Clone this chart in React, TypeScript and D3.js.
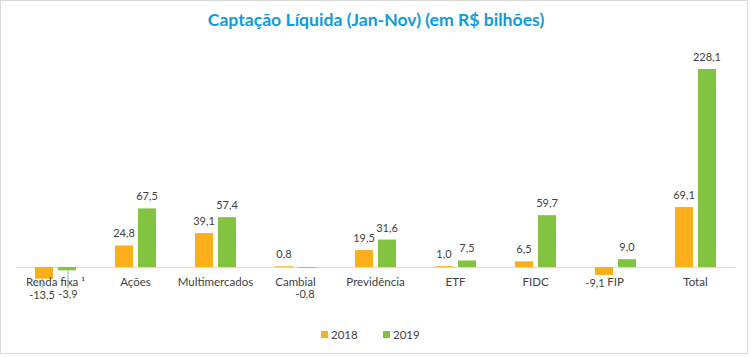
import React from "react";
import * as d3 from "d3";

const categories = ["Renda fixa ¹", "Ações", "Multimercados", "Cambial", "Previdência", "ETF", "FIDC", "FIP", "Total"];
const years = ["2018", "2019"];
const values2018 = [-13.5, 24.8, 39.1, 0.8, 19.5, 1.0, 6.5, -9.1, 69.1];
const values2019 = [-3.9, 67.5, 57.4, -0.8, 31.6, 7.5, 59.7, 9.0, 228.1];
const title = "Captação Líquida (Jan-Nov) (em R$ bilhões)";

const W = 751;
const H = 357;
const colors: Record<string, string> = { "2018": "#FDAE1B", "2019": "#82C341" };
const FONT = "Lato, 'Open Sans', sans-serif";
const TEXT = "#404040";

// manual label nudges (layout only): key `${catIndex}-${year}` -> {dx, dy, leader}
const labelNudges: Record<string, { dx: number; dy: number; leader?: boolean }> = {
  "0-2018": { dx: -2, dy: 8, leader: true },
  "0-2019": { dx: 1, dy: 16, leader: true },
  "3-2019": { dx: -2, dy: 18 },
  "7-2018": { dx: -9, dy: 0 },
};

const fmt = (v: number) => v.toFixed(1).replace(".", ",");

export default function App() {
  const x0 = d3.scaleBand<string>().domain(categories).range([15.5, 735.5]).padding(0);
  const x1 = d3.scaleBand<string>().domain(years).range([19.5, 60.5]).paddingInner(0.217).paddingOuter(0);
  const y = d3.scaleLinear().domain([0, 228.1]).range([267, 69]);
  const series: Record<string, number[]> = { "2018": values2018, "2019": values2019 };

  const bars: React.ReactNode[] = [];
  const labels: React.ReactNode[] = [];
  categories.forEach((c, i) => {
    years.forEach((yr) => {
      const v = series[yr][i];
      const bx = (x0(c) as number) + (x1(yr) as number);
      const bw = x1.bandwidth();
      const top = y(Math.max(v, 0));
      const bot = y(Math.min(v, 0));
      bars.push(<rect key={`b${i}${yr}`} x={bx} y={top} width={bw} height={Math.max(bot - top, 0.8)} fill={colors[yr]} />);
      const cx = bx + bw / 2;
      let ly = v >= 0 ? top - 8 : bot + 12;
      const nudge = labelNudges[`${i}-${yr}`];
      let lx = cx;
      if (nudge) {
        lx += nudge.dx;
        ly += nudge.dy;
        if (nudge.leader) {
          labels.push(
            <line key={`ll${i}${yr}`} x1={lx} x2={lx} y1={bot} y2={ly - 10} stroke="#a6a6a6" strokeWidth={1} />
          );
        }
      }
      labels.push(
        <text key={`l${i}${yr}`} x={lx} y={ly} textAnchor="middle" fontSize={11} fill={TEXT} fontFamily={FONT}>
          {fmt(v)}
        </text>
      );
    });
  });

  return (
    <svg width={W} height={H} style={{ position: "absolute", left: 0, top: 0, background: "#fff" }}>
      <rect x={0.5} y={0.5} width={747} height={353} fill="#fff" stroke="#d9d9d9" />
      <text x={376} y={26} textAnchor="middle" fontSize={17.6} fontWeight="bold" fill="#0E9BDB" fontFamily={FONT}>
        {title}
      </text>
      <line x1={15.5} x2={735.5} y1={267.5} y2={267.5} stroke="#d9d9d9" strokeWidth={1} />
      {bars}
      {categories.map((c) => (
        <text key={c} x={(x0(c) as number) + x0.bandwidth() / 2} y={286} textAnchor="middle" fontSize={11.5} fill={TEXT} fontFamily={FONT}>
          {c}
        </text>
      ))}
      {labels}
      {years.map((yr, k) => {
        const lx = 321 + k * 62;
        return (
          <g key={yr}>
            <rect x={lx} y={331} width={7} height={7} fill={colors[yr]} />
            <text x={lx + 10} y={338.5} fontSize={11.5} fill={TEXT} fontFamily={FONT}>
              {yr}
            </text>
          </g>
        );
      })}
    </svg>
  );
}
